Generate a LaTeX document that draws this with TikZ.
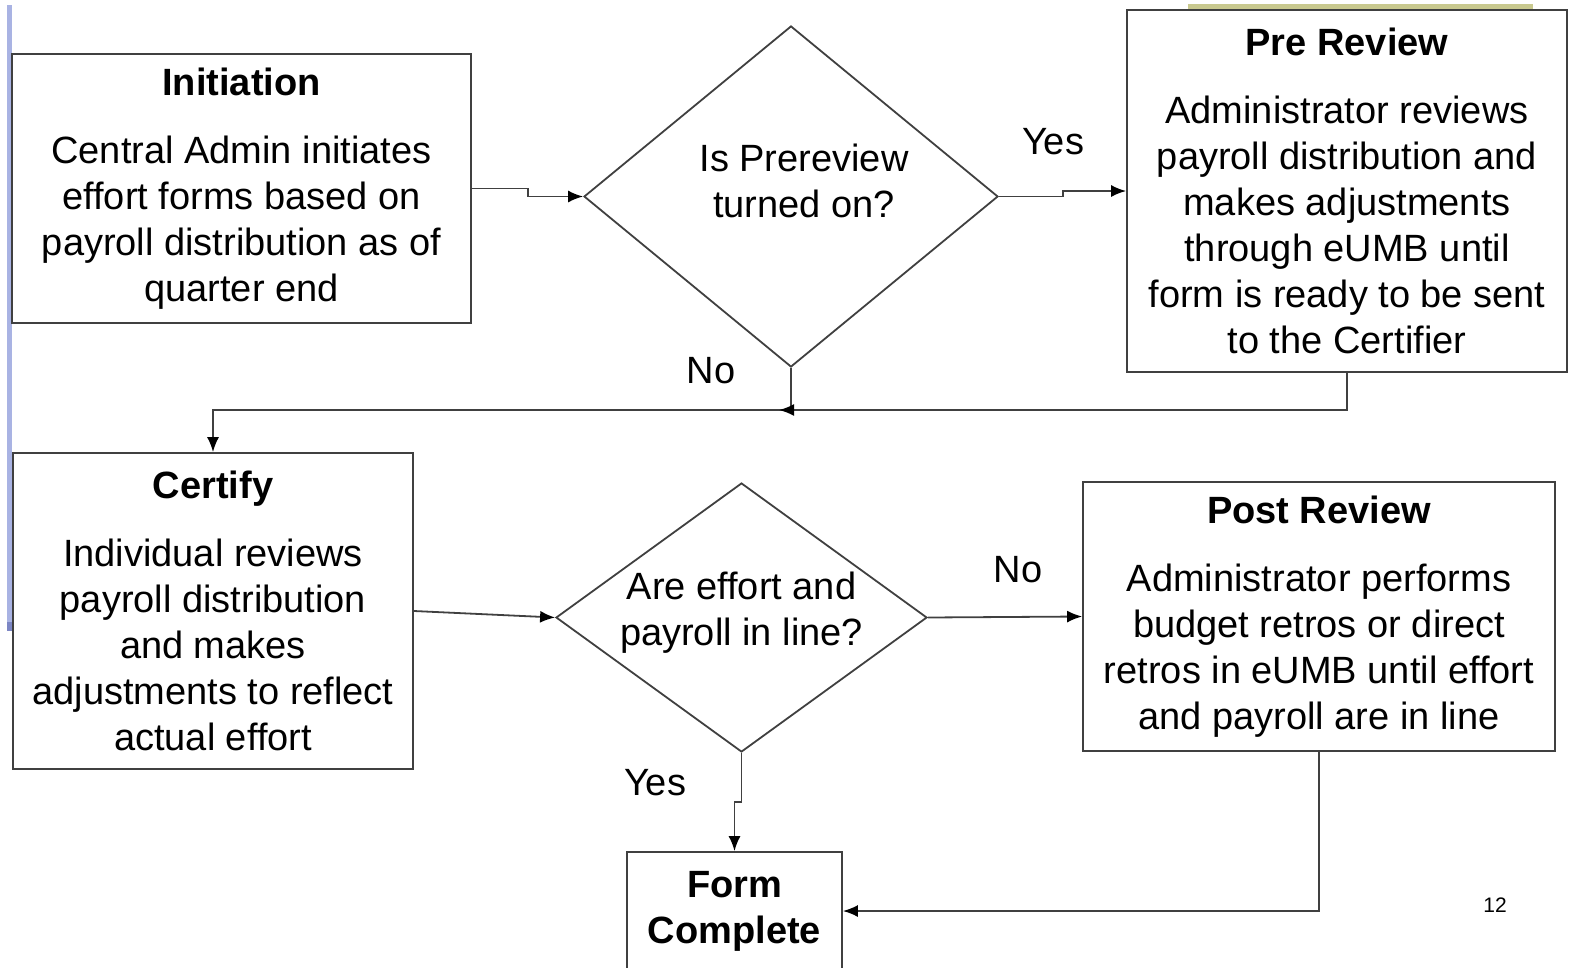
\documentclass[tikz,border=0pt]{standalone}
\usepackage{fontspec}
\setmainfont{Liberation Sans}
\usetikzlibrary{shapes.geometric,arrows.meta}
\definecolor{linegrey}{HTML}{404040}
\definecolor{barblue}{HTML}{A9B3E3}
\definecolor{bardark}{HTML}{7C86C4}
\definecolor{bandolive}{HTML}{C9C98F}
\tikzset{procbox/.style={draw=linegrey,line width=1.8pt,rectangle,inner sep=0pt,align=center,
    font=\fontsize{38}{46}\selectfont},
  decide/.style={draw=linegrey,line width=1.8pt,diamond,inner sep=0pt},
  asktext/.style={align=center,font=\fontsize{38}{46}\selectfont},
  flow/.style={draw=linegrey,line width=1.8pt,-{Latex[length=15pt,width=12pt,color=black]}},
  answer/.style={font=\fontsize{38}{46}\selectfont}}

\begin{document}
\begin{tikzpicture}[x=1pt,y=-1pt]
\useasboundingbox (0,0) rectangle (1575,967);
% slide decorations
\fill[barblue] (7,5) rectangle (12,622);
\fill[bardark] (7,622) rectangle (12,631);
\fill[bandolive] (1188,4) rectangle (1533,9);

% boxes
\node[procbox,minimum width=459pt,minimum height=269pt] (init) at (241.5,188.5)
  {\textbf{Initiation}\\[22pt]Central Admin initiates\\effort forms based on\\payroll distribution as of\\quarter end};
\node[decide,minimum width=414pt,minimum height=341pt,
  label={[asktext,xshift=13pt,yshift=16pt]center:Is Prereview\\turned on?}] (prev) at (791,196.5) {};
\node[procbox,minimum width=440pt,minimum height=362pt] (pre) at (1347,191)
  {\textbf{Pre Review}\\[22pt]Administrator reviews\\payroll distribution and\\makes adjustments\\through eUMB until\\form is ready to be sent\\to the Certifier};
\node[procbox,minimum width=400pt,minimum height=316pt] (cert) at (213,611)
  {\textbf{Certify}\\[22pt]Individual reviews\\payroll distribution\\and makes\\adjustments to reflect\\actual effort};
\node[decide,minimum width=371pt,minimum height=269pt,
  label={[asktext,yshift=5pt]center:Are effort and\\payroll in line?}] (inline) at (741.5,617.5) {};
\node[procbox,minimum width=472pt,minimum height=269pt] (post) at (1319,616.5)
  {\textbf{Post Review}\\[22pt]Administrator performs\\budget retros or direct\\retros in eUMB until effort\\and payroll are in line};
\node[procbox,minimum width=215pt,minimum height=118pt] (done) at (734.5,911)
  {\textbf{Form}\\\textbf{Complete}};

% answers
\node[answer] (yes1) at (1053,142) {Yes};
\node[answer] (no1) at (711,371) {No};
\node[answer] (no2) at (1018,570) {No};
\node[answer] (yes2) at (655,783) {Yes};
\node[font=\fontsize{21}{25}\selectfont] (pagenum) at (1495,905) {12};

\coordinate (join) at (791,410);

% connectors
\draw[flow] (init.east) -- ++(56,0) |- (prev.west);
\draw[flow] (prev.east) -- ++(64,0) |- (pre.west);
\draw[flow] (prev.south) -- (join) -| (cert.north);
\draw[flow] (pre.south) |- ([xshift=-12pt]join);
\draw[flow] (cert.east) -- (inline.west);
\draw[flow] (inline.east) -- (post.west);
\draw[flow] (inline.south) -- ++(0,49) -| (done.north);
\draw[flow] (post.south) |- (done.east);
\end{tikzpicture}
\end{document}
